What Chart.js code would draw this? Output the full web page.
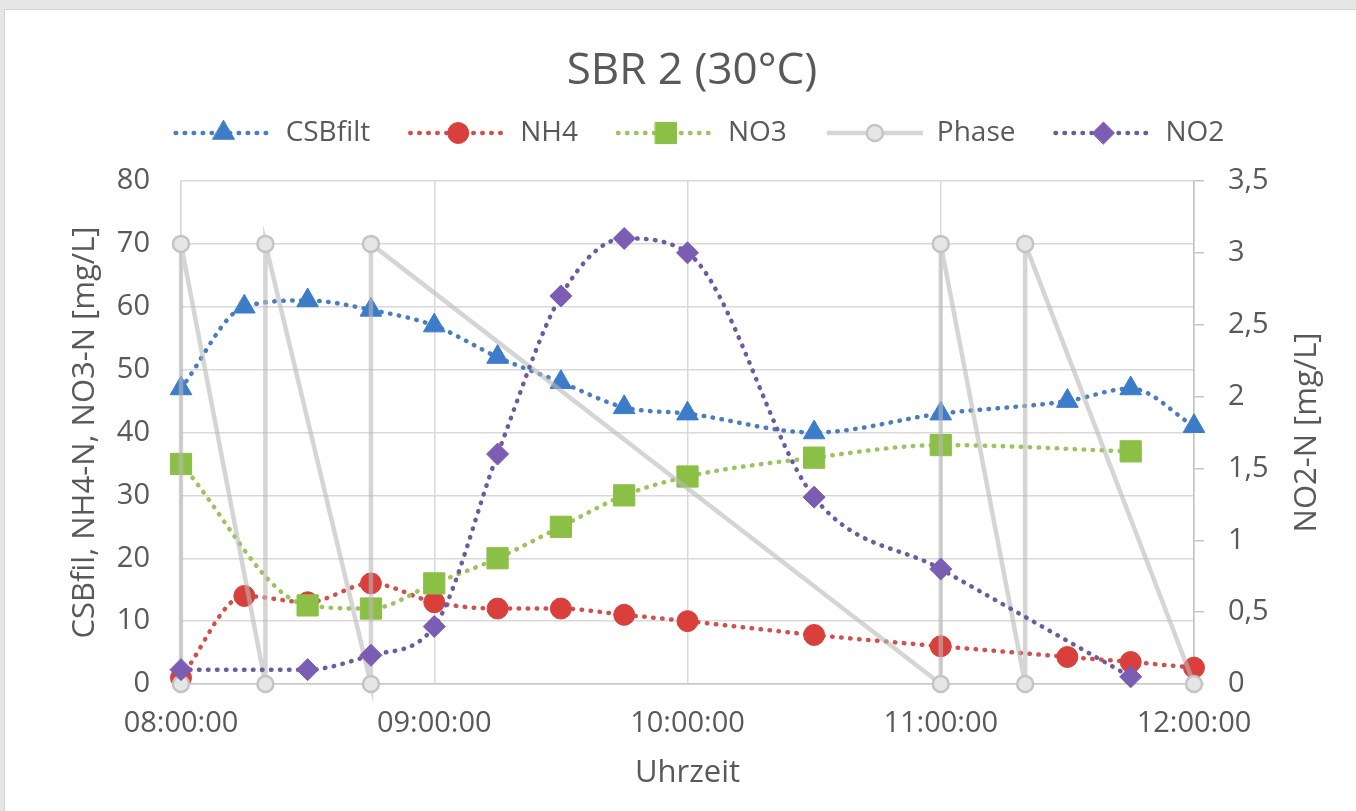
<!DOCTYPE html>
<html>
<head>
<meta charset="utf-8">
<title>SBR 2 (30°C)</title>
<script src="https://cdn.jsdelivr.net/npm/chart.js@4.4.1/dist/chart.umd.min.js"></script>
<style>
    html, body { margin: 0; padding: 0; background: #e6e6e6; }
    #wrap { position: relative; width: 1356px; height: 811px; overflow: hidden; }
    #panel { position: absolute; left: 4px; top: 9px; right: 0; bottom: 0; background: #fff;
             border-left: 1px solid #d2d2d2; border-top: 1px solid #d2d2d2; }
    #myChart { position: absolute; left: 0; top: 0; }
</style>
</head>
<body>
<div id="wrap">
    <div id="panel"></div>
    <canvas id="myChart" width="1356" height="811"></canvas>
</div>
<script>
const csbTimes = ['08:00', '08:15', '08:30', '08:45', '09:00', '09:15', '09:30', '09:45', '10:00', '10:30', '11:00', '11:30', '11:45', '12:00'];
const csbValues = [47, 60, 61, 59.5, 57, 52, 48, 44, 43, 40, 43, 45, 47, 41];

const nh4Times = ['08:00', '08:15', '08:30', '08:45', '09:00', '09:15', '09:30', '09:45', '10:00', '10:30', '11:00', '11:30', '11:45', '12:00'];
const nh4Values = [1, 14, 13, 16, 13, 12, 12, 11, 10, 7.8, 6, 4.3, 3.5, 2.6];

const no3Times = ['08:00', '08:30', '08:45', '09:00', '09:15', '09:30', '09:45', '10:00', '10:30', '11:00', '11:45'];
const no3Values = [35, 12.5, 12, 16, 20, 25, 30, 33, 36, 38, 37];

const phaseTimes = ['08:00', '08:00', '08:20', '08:20', '08:45', '08:45', '11:00', '11:00', '11:20', '11:20', '12:00'];
const phaseValues = [0, 70, 0, 70, 0, 70, 0, 70, 0, 70, 0];

// NO2 is on the right axis
const no2Times = ['08:00', '08:30', '08:45', '09:00', '09:15', '09:30', '09:45', '10:00', '10:30', '11:00', '11:45'];
const no2Values = [0.1, 0.1, 0.2, 0.4, 1.6, 2.7, 3.1, 3.0, 1.3, 0.8, 0.05];

const xTicks = [8, 9, 10, 11, 12];

const textColor = '#595959';
const fontFamily = "'Open Sans', sans-serif";

// "08:15" -> 8.25 (hours)
function toHours(t) {
    const parts = t.split(':');
    return parseInt(parts[0]) + parseInt(parts[1]) / 60;
}

function toPoints(times, values) {
    return times.map((t, i) => ({ x: toHours(t), y: values[i] }));
}

function dotted(label, times, values, color, dotColor, style, radius, axis, order) {
    return {
        label: label,
        data: toPoints(times, values),
        yAxisID: axis,
        order: order,
        clip: false,
        borderColor: dotColor,
        borderWidth: 4.5,
        borderDash: [0.5, 8.5],
        borderCapStyle: 'round',
        cubicInterpolationMode: 'monotone',
        pointStyle: style,
        pointRadius: radius,
        pointBackgroundColor: color,
        pointBorderColor: color,
        pointBorderWidth: 1
    };
}

Chart.defaults.font.family = fontFamily;
Chart.defaults.color = textColor;

// legend (line + marker) and the right axis title, which reads bottom to top
const extrasPlugin = {
    id: 'extras',
    afterDraw(chart) {
        const ctx = chart.ctx;
        const datasets = chart.data.datasets;
        const lineLen = 96, gapText = 14, gapItem = 40, legendY = 133;
        ctx.save();
        ctx.font = '28px ' + fontFamily;
        ctx.textBaseline = 'middle';
        let total = 0;
        const widths = datasets.map(ds => ctx.measureText(ds.label).width);
        widths.forEach(w => { total += lineLen + gapText + w; });
        total += gapItem * (datasets.length - 1);
        let x = 700 - total / 2;
        datasets.forEach((ds, i) => {
            ctx.save();
            ctx.strokeStyle = ds.borderColor;
            ctx.lineWidth = ds.borderWidth;
            ctx.lineCap = ds.borderCapStyle || 'butt';
            ctx.setLineDash(ds.borderDash || []);
            ctx.beginPath();
            ctx.moveTo(x, legendY);
            ctx.lineTo(x + lineLen, legendY);
            ctx.stroke();
            ctx.setLineDash([]);
            ctx.fillStyle = ds.pointBackgroundColor;
            ctx.strokeStyle = ds.pointBorderColor;
            ctx.lineWidth = ds.pointBorderWidth;
            Chart.helpers.drawPoint(ctx, {
                pointStyle: ds.pointStyle,
                radius: ds.pointRadius,
                rotation: 0,
                borderWidth: ds.pointBorderWidth
            }, x + lineLen / 2, legendY);
            ctx.restore();
            ctx.fillStyle = textColor;
            ctx.textAlign = 'left';
            ctx.fillText(ds.label, x + lineLen + gapText, legendY);
            x += lineLen + gapText + widths[i] + gapItem;
        });

        const y1 = chart.scales.y1;
        const area = chart.chartArea;
        ctx.translate(y1.left + 113, (area.top + area.bottom) / 2);
        ctx.rotate(-Math.PI / 2);
        ctx.font = '31px ' + fontFamily;
        ctx.textAlign = 'center';
        ctx.fillText('NO2-N [mg/L]', 0, 0);
        ctx.restore();
    }
};

const chartCanvas = document.getElementById('myChart').getContext('2d');

const myChart = new Chart(chartCanvas, {
    type: 'line',
    data: {
        datasets: [
            dotted('CSBfilt', csbTimes, csbValues, '#3d7cc9', '#4a7dbf', 'triangle', 12.5, 'y', 5),
            dotted('NH4', nh4Times, nh4Values, '#d9403c', '#d2504c', 'circle', 10.5, 'y', 4),
            dotted('NO3', no3Times, no3Values, '#8cbf45', '#9cc45c', 'rect', 15, 'y', 3),
            {
                label: 'Phase',
                data: toPoints(phaseTimes, phaseValues),
                yAxisID: 'y',
                order: 2,
                clip: false,
                borderColor: 'rgba(185, 185, 185, 0.6)',
                borderWidth: 4.5,
                tension: 0,
                pointStyle: 'circle',
                pointRadius: 8,
                pointBackgroundColor: '#e6e6e6',
                pointBorderColor: '#c4c4c4',
                pointBorderWidth: 2.5
            },
            dotted('NO2', no2Times, no2Values, '#7b5db3', '#6e5aa0', 'rectRot', 11, 'y1', 1)
        ]
    },
    options: {
        responsive: false,
        animation: false,
        layout: {
            padding: { left: 63, right: 35, top: 10, bottom: 15.4 }
        },
        plugins: {
            legend: { display: false },
            tooltip: { enabled: false },
            title: {
                display: true,
                text: 'SBR 2 (30°C)',
                color: textColor,
                font: { size: 44, weight: 'normal' },
                padding: { top: 35, bottom: 83.2 }
            }
        },
        scales: {
            x: {
                type: 'linear',
                min: 8,
                max: 12,
                afterBuildTicks: scale => { scale.ticks = xTicks.map(v => ({ value: v })); },
                afterFit: scale => { scale.height = 111.6; },
                ticks: {
                    padding: 22,
                    font: { size: 29 },
                    color: textColor,
                    callback: v => String(v).padStart(2, '0') + ':00:00'
                },
                grid: { color: '#d9d9d9', lineWidth: 1.5, drawTicks: false },
                border: { color: '#c8c8c8', width: 1.5 },
                title: {
                    display: true,
                    text: 'Uhrzeit',
                    color: textColor,
                    font: { size: 31 },
                    padding: { top: 4, bottom: 4 }
                }
            },
            y: {
                position: 'left',
                min: 0,
                max: 80,
                afterFit: scale => { scale.width = 118; },
                ticks: { stepSize: 10, padding: 31, font: { size: 29 }, color: textColor },
                grid: { color: '#d9d9d9', lineWidth: 1.5, drawTicks: false },
                border: { color: '#d9d9d9', width: 1.5 },
                title: {
                    display: true,
                    text: 'CSBfil, NH4-N, NO3-N [mg/L]',
                    color: textColor,
                    font: { size: 31 },
                    padding: { top: 4, bottom: 4 }
                }
            },
            y1: {
                position: 'right',
                min: 0,
                max: 3.5,
                afterFit: scale => { scale.width = 127; },
                ticks: {
                    stepSize: 0.5,
                    padding: 24,
                    font: { size: 29 },
                    color: textColor,
                    callback: v => String(v).replace('.', ',')
                },
                grid: { drawOnChartArea: false, drawTicks: true, tickLength: 10, color: '#c4c4c4', lineWidth: 1.5 },
                border: { color: '#c4c4c4', width: 1.5 }
            }
        }
    },
    plugins: [extrasPlugin]
});
</script>
</body>
</html>
